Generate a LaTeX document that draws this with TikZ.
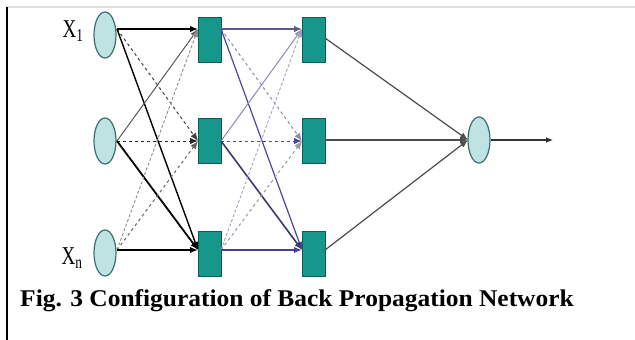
\documentclass[tikz,border=0pt]{standalone}
\usepackage{fontspec}
\setmainfont{Liberation Serif}
\usetikzlibrary{arrows.meta,shapes.geometric}
\definecolor{ellfill}{HTML}{BFE3E3}
\definecolor{elldraw}{HTML}{3F6E6E}
\definecolor{boxfill}{HTML}{17968C}
\definecolor{boxdraw}{HTML}{0F5B55}
\definecolor{bluea}{HTML}{5A5A8E}
\definecolor{blueb}{HTML}{8A8AB8}
\definecolor{bluec}{HTML}{4848A0}
\definecolor{blued}{HTML}{3A3A70}
\definecolor{bluee}{HTML}{4B3B9B}
\definecolor{bluef}{HTML}{A0A0C8}
\begin{document}
\begin{tikzpicture}[x=1pt,y=-1pt,
  neuron/.style={ellipse,draw=elldraw,line width=1.2pt,fill=ellfill,minimum width=22pt,minimum height=46pt,inner sep=0pt},
  unit/.style={rectangle,draw=boxdraw,line width=1pt,fill=boxfill,minimum width=23pt,minimum height=45pt,inner sep=0pt},
  tip/.style={-{Latex[length=8pt,width=6.5pt]}},
  lab/.style={font=\fontsize{19}{19}\selectfont,inner sep=0pt}
]
\useasboundingbox (0,0) rectangle (635,340);
\fill[white] (0,0) rectangle (635,340);
% frame lines
\draw[black!12,line width=1.5pt] (7,7) -- (635,7);
\draw[black,line width=2pt] (7,7) -- (7,340);
% input neurons
\node[neuron] (in1) at (105,35) {};
\node[neuron] (in2) at (105,141) {};
\node[neuron] (in3) at (105,253) {};
% hidden layer 1
\node[unit] (ha1) at (209.5,39.5) {};
\node[unit] (ha2) at (209.5,141) {};
\node[unit] (ha3) at (209.5,254) {};
% hidden layer 2
\node[unit] (hb1) at (313.5,40) {};
\node[unit] (hb2) at (313.5,141) {};
\node[unit] (hb3) at (313.5,254) {};
% output
\node[neuron] (out) at (479,140) {};
\coordinate (end) at (553,140);
% ports
\coordinate (i1) at (117,29);
\coordinate (i2) at (117,141);
\coordinate (i3) at (117,250);
\coordinate (a1) at (198,29);
\coordinate (a2) at (198,141);
\coordinate (a3) at (198,250);
\coordinate (b1) at (221,29);
\coordinate (b2) at (221,141);
\coordinate (b3) at (221,250);
\coordinate (c1) at (302,29);
\coordinate (c2) at (302,141);
\coordinate (c3) at (302,250);
\coordinate (d1) at (325,38);
\coordinate (d2) at (325,140);
\coordinate (d3) at (325,250);
\coordinate (o) at (468,140);
% labels
\node[lab,yscale=1.35] (x1) at (73,31) {X\textsubscript{1}};
\node[lab,yscale=1.35] (xn) at (72,258) {X\textsubscript{n}};
% input -> hidden 1
\draw[tip,black,line width=1.4pt] (i1) -- (a1);
\draw[tip,black!75,line width=1pt,dashed] (i1) -- (a2);
\draw[tip,black,line width=1.4pt] (i1) -- (a3);
\draw[tip,black!65,line width=1pt] (i2) -- (a1);
\draw[tip,black!85,line width=1pt,dashed] (i2) -- (a2);
\draw[tip,black,line width=1.8pt] (i2) -- (a3);
\draw[tip,black!45,line width=0.9pt,densely dashed] (i3) -- (a1);
\draw[tip,black!60,line width=1pt,dashed] (i3) -- (a2);
\draw[tip,black,line width=2pt] (i3) -- (a3);
% hidden 1 -> hidden 2
\draw[tip,bluea,line width=1.2pt] (b1) -- (c1);
\draw[tip,blueb,line width=1pt,dashed] (b1) -- (c2);
\draw[tip,bluec,line width=1.2pt] (b1) -- (c3);
\draw[tip,blueb,line width=1pt] (b2) -- (c1);
\draw[tip,bluec,line width=1pt,dashed] (b2) -- (c2);
\draw[tip,blued,line width=1.6pt] (b2) -- (c3);
\draw[tip,bluef,line width=0.9pt,densely dashed] (b3) -- (c1);
\draw[tip,black!40,line width=1pt,dashed] (b3) -- (c2);
\draw[tip,bluee,line width=2pt] (b3) -- (c3);
% hidden 2 -> output
\draw[tip,black!70,line width=1.2pt] (d1) -- (o);
\draw[tip,black!70,line width=1.5pt] (d2) -- (o);
\draw[tip,black!70,line width=1.2pt] (d3) -- (o);
\draw[-{Latex[length=7pt,width=6pt]},black!80,line width=1.2pt] (out.east) -- (end);
% caption
\node[anchor=base west,inner sep=0pt,xscale=1.06,font=\fontsize{24}{24}\selectfont\bfseries] (cap) at (20,306) {Fig. 3 Configuration of Back Propagation Network};
\end{tikzpicture}
\end{document}
